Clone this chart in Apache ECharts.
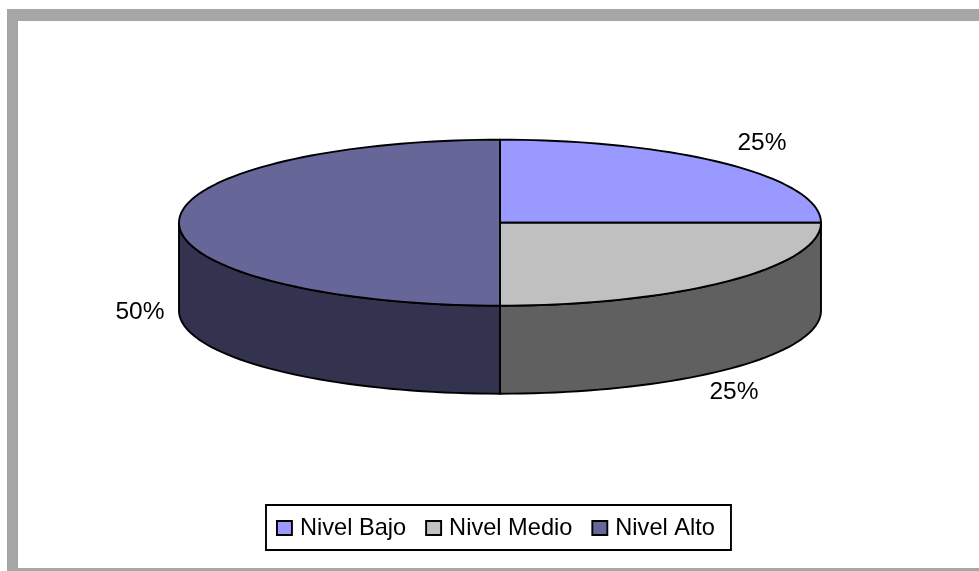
<!DOCTYPE html>
<html>
<head>
<meta charset="utf-8">
<style>html,body{margin:0;padding:0;background:#fff}#c{width:979px;height:571px}</style>
<script src="https://cdn.jsdelivr.net/npm/echarts@6/dist/echarts.min.js"></script>
</head>
<body>
<div id="c"></div>
<script>
var categories = ['Nivel Bajo', 'Nivel Medio', 'Nivel Alto'];
var values = [25, 25, 50];
var tickLabels = ['25%', '25%', '50%'];
var topColors = ['#9999FF', '#C0C0C0', '#666699'];
var sideColors = ['#4D4D80', '#606060', '#333350'];

var total = values.reduce(function (a, b) { return a + b; }, 0);
var CX = 500, CY = 222.7, RX = 321, RY = 83, DEPTH = 88;
var labelAnchors = [[762, 143], [734, 392], [140, 312]];
var FRAME = '#A6A6A6';

function pt(deg, dy) {
  var r = deg * Math.PI / 180;
  return [CX + RX * Math.sin(r), CY - RY * Math.cos(r) + (dy || 0)];
}
function arc(a0, a1, dy) {
  var out = [], n = Math.max(2, Math.ceil(Math.abs(a1 - a0) / 2));
  for (var i = 0; i <= n; i++) out.push(pt(a0 + (a1 - a0) * i / n, dy));
  return out;
}
var lineStyle = { stroke: '#000', lineWidth: 1.9, lineJoin: 'round' };

function makeSeries(idx) {
  return {
    type: 'custom',
    name: categories[idx],
    coordinateSystem: 'none',
    itemStyle: { color: topColors[idx] },
    silent: true,
    animation: false,
    z: 2,
    data: [[values[idx]]],
    renderItem: function (params, api) {
      var before = 0;
      for (var i = 0; i < idx; i++) before += values[i];
      var a0 = before / total * 360;
      var a1 = a0 + api.value(0) / total * 360;
      var children = [];
      var s0 = Math.max(a0, 90), s1 = Math.min(a1, 270);
      if (s1 > s0) {
        var wall = arc(s0, s1, 0).concat(arc(s1, s0, DEPTH));
        children.push({
          type: 'polygon',
          shape: { points: wall },
          style: Object.assign({ fill: sideColors[idx] }, lineStyle)
        });
      }
      var face = [[CX, CY]].concat(arc(a0, a1, 0));
      children.push({
        type: 'polygon',
        shape: { points: face },
        style: Object.assign({ fill: topColors[idx] }, lineStyle)
      });
      children.push({
        type: 'text',
        style: {
          x: labelAnchors[idx][0],
          y: labelAnchors[idx][1],
          text: tickLabels[idx],
          fill: '#000',
          font: '24.5px "Liberation Sans", Arial, sans-serif',
          textAlign: 'center',
          textVerticalAlign: 'middle'
        }
      });
      return { type: 'group', children: children };
    }
  };
}

function bar(x, y, w, h) {
  return { type: 'rect', silent: true, z: -1, shape: { x: x, y: y, width: w, height: h }, style: { fill: FRAME } };
}

var chart = echarts.init(document.getElementById('c'), null, { renderer: 'canvas' });
chart.setOption({
  animation: false,
  backgroundColor: '#fff',
  graphic: [bar(7, 9, 972, 12), bar(7, 9, 11, 562), bar(7, 568, 972, 3)],
  legend: {
    data: categories,
    left: 266,
    top: 505,
    orient: 'horizontal',
    icon: 'rect',
    itemWidth: 15,
    itemHeight: 14,
    itemGap: 19,
    padding: [11, 16, 10, 10],
    backgroundColor: '#fff',
    borderColor: '#000',
    borderWidth: 1.9,
    borderRadius: 0,
    selectedMode: false,
    itemStyle: { borderColor: '#000', borderWidth: 1.9 },
    textStyle: { color: '#000', fontFamily: '"Liberation Sans", Arial, sans-serif', fontSize: 23.6, padding: [0, 0, 0, 3] }
  },
  series: categories.map(function (c, i) { return makeSeries(i); })
});
</script>
</body>
</html>
